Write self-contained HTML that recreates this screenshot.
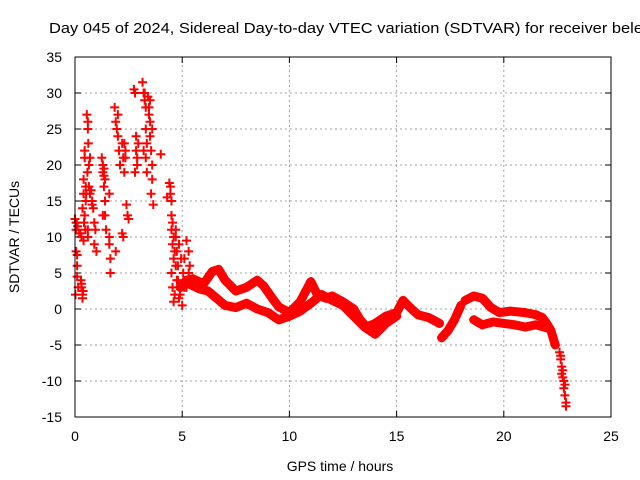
<!DOCTYPE html>
<html><head><meta charset="utf-8"><style>
body{margin:0;background:#fff;}
svg{display:block;font-family:"Liberation Sans",sans-serif;}
</style></head><body>
<svg id="chart" width="640" height="480">
<rect width="640" height="480" fill="#fff"/>
<text x="49" y="33" font-size="14.5" textLength="594" lengthAdjust="spacingAndGlyphs">Day 045 of 2024, Sidereal Day-to-day VTEC variation (SDTVAR) for receiver bele</text>
<g id="grid"></g>
<g id="axes"></g>
<g id="band"></g>
<g id="marks"></g>
<rect x="75" y="57" width="536" height="360" fill="none" stroke="#000" stroke-width="1"/>
<text x="340" y="471" font-size="14" text-anchor="middle">GPS time / hours</text>
<text transform="translate(19,237) rotate(-90)" font-size="14" text-anchor="middle">SDTVAR / TECUs</text>
</svg>
<script>
const xTicks=[0,5,10,15,20,25];
const yTicks=[35,30,25,20,15,10,5,0,-5,-10,-15];
// scattered early points [hour, value]
const scatterH=[0,0.05,0.05,0.05,0.1,0.1,0.1,0.15,0.25,0.3,0.3,0.35,0.35,0.4,0.35,0.4,0.4,0.45,0.45,0.45,0.5,0.5,0.55,0.6,0.6,0.62,0.65,0.65,0.6,0.6,0.7,0.8,0.85,0.9,0.95,0.9,1.0,1.25,1.3,1.3,1.35,1.35,1.4,1.4,1.45,1.6,1.6,1.65,1.65,1.85,1.9,1.95,2.0,2.05,2.1,2.2,2.25,2.3,2.35,2.2,2.25,2.4,2.45,2.5,2.75,2.8,2.85,2.85,2.9,2.8,3.15,3.2,3.25,3.3,3.3,3.35,3.3,3.35,3.45,3.5,3.5,3.55,3.6,3.6,3.55,3.65,3.5,4.0,4.3,4.4,4.45,4.5,4.5,4.55,4.6,4.5,4.55,4.6,4.7,4.75,4.8,4.8,4.9,4.85,5.0,5.1,5.2,5.3,5.35,5.3,5.2,
 0.02,0.08,0.12,0.2,0.28,0.3,0.38,0.42,0.48,0.52,0.58,0.7,0.75,0.8,1.3,1.35,1.4,1.6,1.9,2.0,2.3,2.35,2.9,2.95,3.2,3.25,3.4,3.45,3.6,4.45,4.5,4.55,4.6,4.65,4.7,4.75,4.65,4.7,4.85,4.95,5.05,5.1,5.25];
const scatterV=[12.5,12,11,8,7.5,6,4.5,3,10.5,10,3,2,1.5,9.5,14,16,18,21,22,13,15,17,27,26,25,23,20,17,11,10,16,15,14,12,11,9,8,21,20,19,18.5,17,15,13,11,10,9,7,5,28,26,25,24,22,20,23,21,19,22,10.5,10,14.5,13,12.5,30.5,30,24,22,21,19,31.5,30,29,28,25,23,21,19,28,26,24,22,20,18,16,14.5,29,21.5,15.5,17.5,16,13,11,9,7,5,3,1,10,8,6,4,2,1.5,0.5,3,9.5,8,6,5,3,2,
 12,11.5,10.5,4,3.5,2.5,12,11,16,19,21,16.5,14.5,13,19.5,18,16,8,27,23,21,20,23,22,30,29.5,27,25,17,15,12,10,8,6,4,2,11,9,7,5,7,4,1.5];
// band track 1
const t1H=[4.9,5.2,5.5,6.0,6.4,6.7,7.0,7.5,8.0,8.5,8.8,9.2,9.5,10.0,10.5,11.0,11.3,11.7,12.0,12.5,13.0,13.3,13.6,14.0,14.5,15.0,15.3,15.7,16.0,16.5,17.0];
const t1V=[3,4,4.2,3.5,5.2,5.5,4,2.5,3,4,3.2,1.5,0.3,-0.5,1,3.8,2,1.5,1.8,1,0,-1.5,-2.5,-2,-1,-0.5,1.2,0,-0.8,-1.2,-2];
// band track 2
const t2H=[5.3,5.8,6.2,6.6,7.0,7.5,8.0,8.5,9.0,9.5,10.0,10.5,11.0,11.5,12.0,12.5,13.0,13.5,14.0,14.5,15.0];
const t2V=[3.5,2.8,2.5,1.5,0.5,0.2,0.8,0,-0.5,-1.5,-1,-0.3,0.8,2,1.2,0.5,-1,-2.5,-3.5,-2,-1];
// track 3 (short rising segment)
const t3H=[17.1,17.4,17.7,18.0];
const t3V=[-4,-3,-1.5,0.5];
// track 4 (late loops)
const t4H=[18.2,18.6,19.0,19.4,19.8,20.3,21.0,21.5,21.8,22.0,22.2,22.4];
const t4V=[1.2,1.8,1.5,0.2,-0.5,-0.3,-0.5,-0.8,-1.2,-2,-3,-5];
const t5H=[18.6,19.0,19.5,20.0,20.5,21.0,21.5,22.0];
const t5V=[-1.5,-2.2,-1.8,-2,-2.2,-2.5,-2.2,-2.6];
// final descent points
const tailH=[22.6,22.65,22.7,22.7,22.75,22.8,22.8,22.85,22.9,22.9,22.65,22.75,22.85];
const tailV=[-6,-7,-8,-9,-9.5,-10,-11,-12,-13,-13.5,-6.5,-8.5,-10.5];

const X0=75,X1=611,Y0=417,Y1=57;
const sx=h=>X0+(h-0)/(25-0)*(X1-X0);
const sy=v=>Y0-(v+15)/(50)*(Y0-Y1);
const NS='http://www.w3.org/2000/svg';
const grid=document.getElementById('grid'),axes=document.getElementById('axes');
function mk(tag,attrs,parent){const e=document.createElementNS(NS,tag);for(const k in attrs)e.setAttribute(k,attrs[k]);parent.appendChild(e);return e;}
xTicks.forEach(t=>{const x=sx(t);
 if(t>0&&t<25){const l=mk('line',{x1:x,x2:x,y1:Y0,y2:Y1,stroke:'#a0a0a0','stroke-dasharray':'2,3'},grid);
 
 }
 mk('line',{x1:x,x2:x,y1:Y0,y2:Y0-6,stroke:'#000'},axes);
 mk('line',{x1:x,x2:x,y1:Y1,y2:Y1+6,stroke:'#000'},axes);
 const tx=mk('text',{x:x,y:Y0+24,'font-size':14,'text-anchor':'middle'},axes);tx.textContent=t;
 
 
});
yTicks.forEach(t=>{const y=sy(t);
 if(t>-15&&t<35){const l=mk('line',{x1:X0,x2:X1,y1:y,y2:y,stroke:'#a0a0a0','stroke-dasharray':'2,3'},grid);
 
 }
 mk('line',{x1:X0,x2:X0+6,y1:y,y2:y,stroke:'#000'},axes);
 mk('line',{x1:X1,x2:X1-6,y1:y,y2:y,stroke:'#000'},axes);
 const tx=mk('text',{x:62,y:y+5,'font-size':14,'text-anchor':'end'},axes);tx.textContent=t;
 
 
});
const band=document.getElementById('band'),marks=document.getElementById('marks');
function track(H,V,name){
 const p=mk('polyline',{points:H.map((h,i)=>sx(h)+','+sy(V[i])).join(' '),fill:'none',stroke:'#f00','stroke-width':9,'stroke-linejoin':'round','stroke-linecap':'round'},band);
 
 
}
track(t1H,t1V,'band-track-1');track(t2H,t2V,'band-track-2');track(t3H,t3V,'band-track-3');track(t4H,t4V,'band-track-4');track(t5H,t5V,'band-track-5');
function plus(h,v){const x=sx(h),y=sy(v);
 const p=mk('path',{d:`M${x-4.5},${y}h9M${x},${y-4.5}v9`,stroke:'#f00','stroke-width':2},marks);
 
 
}
scatterH.forEach((h,i)=>plus(h,scatterV[i]));
tailH.forEach((h,i)=>plus(h,tailV[i]));
[t1H,t2H,t3H,t4H,t5H].forEach((H,k)=>{const V=[t1V,t2V,t3V,t4V,t5V][k];H.forEach((h,i)=>plus(h,V[i]));});
</script>
</body></html>
